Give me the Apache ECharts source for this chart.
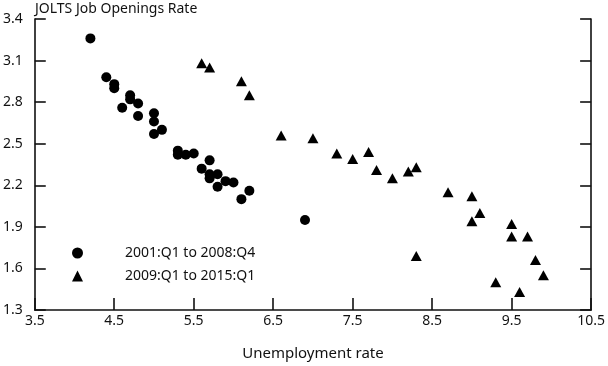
<!DOCTYPE html>
<html>
<head>
<meta charset="utf-8">
<script src="https://cdn.jsdelivr.net/npm/echarts@6/dist/echarts.min.js"></script>
<style>html,body{margin:0;padding:0;background:#fff}#c{width:608px;height:366px}</style>
</head>
<body>
<div id="c"></div>
<script>
var titleText = 'JOLTS Job Openings Rate';
var xName = 'Unemployment rate';
var seriesNames = ['2001:Q1 to 2008:Q4', '2009:Q1 to 2015:Q1'];
// 2001:Q1 to 2008:Q4 (unemployment rate, job openings rate)
var pre = [
  [4.2, 3.26], [4.4, 2.98], [4.5, 2.93], [4.5, 2.90], [4.6, 2.76],
  [4.7, 2.85], [4.7, 2.82], [4.8, 2.79], [4.8, 2.70], [5.0, 2.72],
  [5.0, 2.66], [5.0, 2.57], [5.1, 2.60], [5.3, 2.45], [5.3, 2.42],
  [5.4, 2.42], [5.5, 2.43], [5.6, 2.32], [5.7, 2.38], [5.7, 2.28],
  [5.7, 2.25], [5.8, 2.28], [5.8, 2.19], [5.9, 2.23], [6.0, 2.22],
  [6.1, 2.10], [6.2, 2.16], [6.9, 1.95]
];
// 2009:Q1 to 2015:Q1
var post = [
  [5.6, 3.08], [5.7, 3.05], [6.1, 2.95], [6.2, 2.85], [6.6, 2.56],
  [7.0, 2.54], [7.3, 2.43], [7.5, 2.39], [7.7, 2.44], [7.8, 2.31],
  [8.0, 2.25], [8.2, 2.30], [8.3, 2.33], [8.7, 2.15], [9.0, 2.12],
  [9.1, 2.00], [9.0, 1.94], [9.5, 1.92], [9.5, 1.83], [9.7, 1.83],
  [9.8, 1.66], [9.9, 1.55], [9.3, 1.50], [9.6, 1.43], [8.3, 1.69]
];
var xMin = 3.5, xMax = 10.5, xStep = 1;
var yMin = 1.3, yMax = 3.4, yStep = 0.3;

var FONT = 'Noto Sans';
var axisLineStyle = {color: '#111', width: 1.6};
var chart = echarts.init(document.getElementById('c'), null, {renderer: 'canvas'});
chart.setOption({
  animation: false,
  backgroundColor: '#fff',
  textStyle: {fontFamily: FONT, color: '#111'},
  title: {
    text: titleText, left: 30, top: -3,
    textStyle: {fontFamily: FONT, fontSize: 14, fontWeight: 'normal', color: '#111'}
  },
  legend: {
    orient: 'vertical', left: 67, top: 241,
    itemWidth: 11, itemHeight: 11, itemGap: 9,
    textStyle: {fontFamily: FONT, fontSize: 14, color: '#111', padding: [0, 0, 0, 37]},
    data: [
      {name: seriesNames[0], icon: 'circle'},
      {name: seriesNames[1], icon: 'triangle'}
    ],
    selectedMode: false
  },
  grid: {left: 33, right: 12, top: 19, bottom: 54, containLabel: false},
  xAxis: {
    type: 'value', min: xMin, max: xMax, interval: xStep,
    name: xName, nameLocation: 'middle', nameGap: 36,
    nameTextStyle: {fontFamily: FONT, fontSize: 15, color: '#111'},
    axisLine: {show: true, lineStyle: axisLineStyle},
    axisTick: {show: true, inside: true, length: 12, lineStyle: axisLineStyle},
    axisLabel: {margin: 4, fontSize: 14, color: '#111', fontFamily: FONT,
      formatter: function (v) { return v.toFixed(1); }},
    splitLine: {show: false}
  },
  yAxis: [{
    type: 'value', min: yMin, max: yMax, interval: yStep,
    axisLine: {show: true, lineStyle: axisLineStyle},
    axisTick: {show: true, inside: true, length: 11, lineStyle: axisLineStyle},
    axisLabel: {margin: 12, fontSize: 14, color: '#111', fontFamily: FONT,
      formatter: function (v) { return v.toFixed(1); }},
    splitLine: {show: false}
  }, {
    type: 'value', min: yMin, max: yMax, interval: yStep, position: 'right',
    axisLine: {show: true, lineStyle: axisLineStyle},
    axisTick: {show: true, inside: true, length: 11, lineStyle: axisLineStyle},
    axisLabel: {show: false},
    splitLine: {show: false}
  }],
  series: [{
    name: seriesNames[0], type: 'scatter', symbol: 'circle', symbolSize: 10,
    itemStyle: {color: '#000', opacity: 1}, data: pre
  }, {
    name: seriesNames[1], type: 'scatter', symbol: 'triangle', symbolSize: [11, 10],
    itemStyle: {color: '#000', opacity: 1}, data: post
  }]
});
</script>
</body>
</html>
